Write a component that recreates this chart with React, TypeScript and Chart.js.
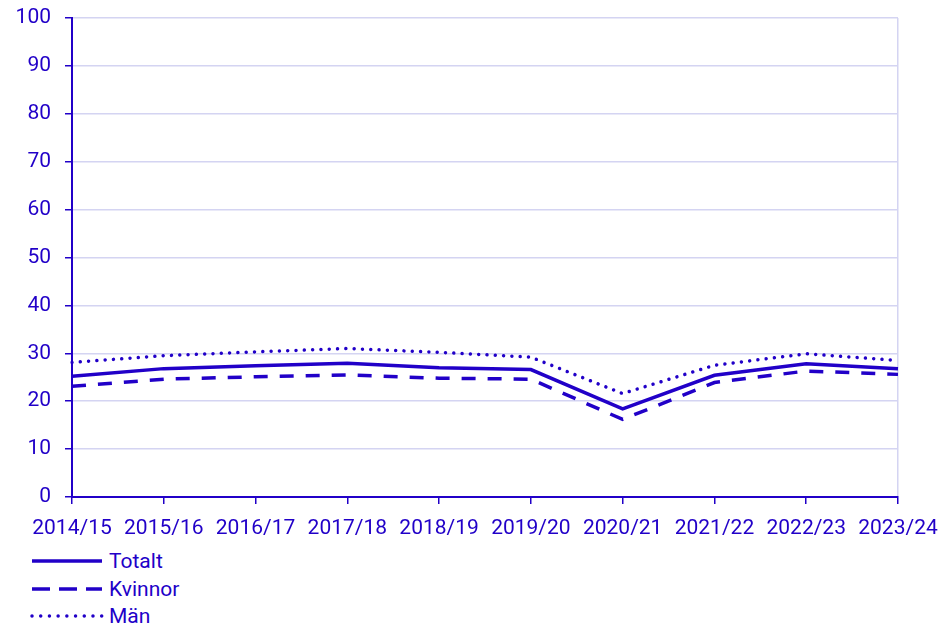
import React, { useEffect, useRef } from "react";
import { Chart, registerables } from "chart.js";

Chart.register(...registerables);

const categories = ["2014/15", "2015/16", "2016/17", "2017/18", "2018/19", "2019/20", "2020/21", "2021/22", "2022/23", "2023/24"];
const totalt = [25.2, 26.8, 27.4, 27.9, 27.0, 26.6, 18.4, 25.4, 27.8, 26.8];
const kvinnor = [23.1, 24.6, 25.1, 25.5, 24.8, 24.6, 16.2, 23.9, 26.3, 25.6];
const man = [28.1, 29.5, 30.3, 31.0, 30.2, 29.2, 21.6, 27.5, 29.9, 28.5];
const seriesNames = ["Totalt", "Kvinnor", "Män"];

const COLOR = "#2100C8";
const GRID = "#D4D4F2";
const FONT = "Roboto, 'Noto Sans', sans-serif";

const fixTop = {
  id: "fixTop",
  afterLayout(chart: any) {
    const y = chart.scales.y;
    const x = chart.scales.x;
    const top = 18;
    const bottom = chart.chartArea.bottom;
    chart.chartArea.top = top;
    chart.chartArea.height = bottom - top;
    y.top = top;
    y.height = bottom - top;
    y.bottom = bottom;
    y.configure();
    y.buildTicks && null;
    x.top = bottom;
  },
};

export default function App() {
  const ref = useRef<HTMLCanvasElement | null>(null);

  useEffect(() => {
    if (!ref.current) return;
    const chart = new Chart(ref.current, {
      type: "line",
      data: {
        labels: categories,
        datasets: [
          { label: seriesNames[0], data: totalt, borderColor: COLOR, borderWidth: 3.5, pointRadius: 0, tension: 0, fill: false },
          { label: seriesNames[1], data: kvinnor, borderColor: COLOR, borderWidth: 3.5, borderDash: [14, 12], pointRadius: 0, tension: 0, fill: false },
          { label: seriesNames[2], data: man, borderColor: COLOR, borderWidth: 3.5, borderDash: [0.01, 8.3], borderCapStyle: "round", pointRadius: 0, tension: 0, fill: false },
        ],
      },
      options: {
        animation: false,
        responsive: false,
        maintainAspectRatio: false,
        layout: { padding: { top: 0, right: 53, left: 0, bottom: 0 } },
        plugins: { legend: { display: false }, tooltip: { enabled: false } },
        scales: {
          x: {
            offset: false,
            grid: {
              color: (ctx: any) => (ctx.index === categories.length - 1 ? GRID : "rgba(0,0,0,0)"),
              tickColor: COLOR,
              tickLength: 7,
              lineWidth: 1.5,
            },
            border: { color: COLOR, width: 2 },
            ticks: { color: COLOR, font: { family: FONT, size: 21 }, padding: 12, maxRotation: 0, autoSkip: false },
            afterFit: (scale: any) => { scale.height = 48; },
          },
          y: {
            min: 0,
            max: 100,
            ticks: { stepSize: 10, color: COLOR, font: { family: FONT, size: 21 }, padding: 14 },
            grid: { color: GRID, tickColor: COLOR, tickLength: 7, lineWidth: 1.5 },
            border: { color: COLOR, width: 2 },
            afterFit: (scale: any) => { scale.width = 72; },
          },
        },
      },
      plugins: [fixTop],
    });
    return () => chart.destroy();
  }, []);

  const legendRow = (name: string, dash: string | undefined, cap: "butt" | "round", width: number) => (
    <div key={name} style={{ display: "flex", alignItems: "center", height: 27.7 }}>
      <svg width={74} height={10} style={{ marginLeft: 30, display: "block" }}>
        <line x1={2} y1={5} x2={72} y2={5} stroke={COLOR} strokeWidth={width} strokeDasharray={dash} strokeLinecap={cap} />
      </svg>
      <span style={{ marginLeft: 5, color: COLOR, fontFamily: FONT, fontSize: 21, lineHeight: "24px" }}>{name}</span>
    </div>
  );

  return (
    <div style={{ position: "absolute", left: 0, top: 0, width: 951, height: 632, background: "#fff" }}>
      <canvas ref={ref} width={951} height={545} style={{ display: "block", width: 951, height: 545 }} />
      <div style={{ position: "absolute", left: 0, top: 547 }}>
        {legendRow(seriesNames[0], undefined, "butt", 3.5)}
        {legendRow(seriesNames[1], "18 9", "butt", 3.5)}
        {legendRow(seriesNames[2], "0.01 8.7", "round", 3.5)}
      </div>
    </div>
  );
}
